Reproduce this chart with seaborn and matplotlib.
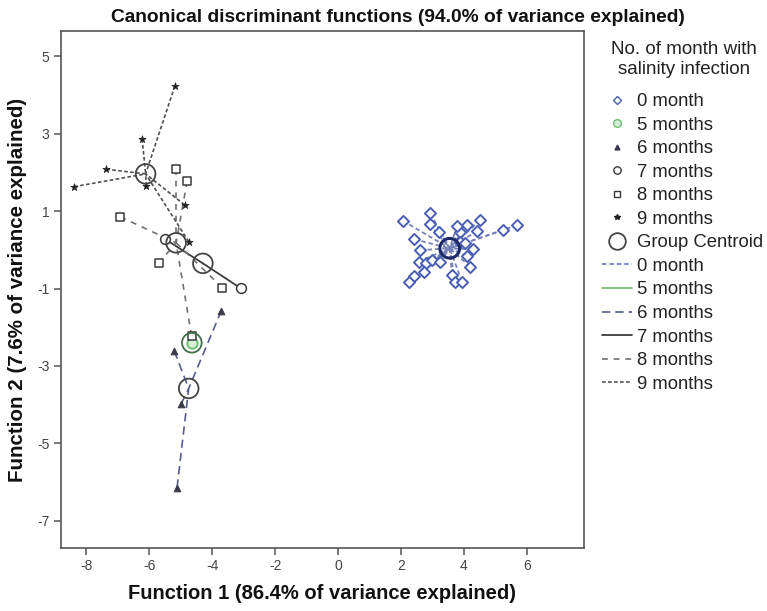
import numpy as np
import pandas as pd
import matplotlib
matplotlib.use("Agg")
import matplotlib.pyplot as plt
import seaborn as sns
from matplotlib.lines import Line2D

# ---------------- data ----------------
groups = ["0 month", "5 months", "6 months", "7 months", "8 months", "9 months"]

m0_x = [2.06, 2.93, 2.91, 3.22, 2.42, 2.61, 2.56, 2.80, 2.98, 3.25, 2.72, 2.40, 2.24, 3.62,
        3.72, 3.94, 4.20, 4.09, 4.29, 3.88, 4.11, 4.43, 4.52, 3.88, 4.04, 5.26, 5.70, 3.78]
m0_y = [0.75, 0.94, 0.66, 0.47, 0.27, -0.01, -0.31, -0.35, -0.26, -0.31, -0.57, -0.68, -0.82, -0.65,
        -0.82, -0.82, -0.44, -0.16, 0.01, 0.47, 0.64, 0.49, 0.77, 0.21, 0.17, 0.51, 0.64, 0.61]
m5_x = [-4.65]
m5_y = [-2.40]
m6_x = [-3.71, -5.21, -4.99, -5.12]
m6_y = [-1.57, -2.61, -3.98, -6.14]
m7_x = [-5.49, -3.10]
m7_y = [0.27, -0.99]
m8_x = [-5.15, -4.80, -6.92, -5.71, -3.68, -4.66]
m8_y = [2.08, 1.77, 0.85, -0.35, -0.98, -2.22]
m9_x = [-5.19, -6.23, -7.37, -8.39, -6.10, -4.88, -4.75]
m9_y = [4.23, 2.86, 2.08, 1.63, 1.65, 1.16, 0.21]

centroid_x = [3.55, -4.65, -4.75, -4.30, -5.15, -6.12]
centroid_y = [0.04, -2.40, -3.58, -0.35, 0.18, 1.96]

x_ticks = [-8, -6, -4, -2, 0, 2, 4, 6]
y_ticks = [5, 3, 1, -1, -3, -5, -7]

title = "Canonical discriminant functions (94.0% of variance explained)"
x_label = "Function 1 (86.4% of variance explained)"
y_label = "Function 2 (7.6% of variance explained)"
legend_title = ["No. of month with", "salinity infection"]

# ---------------- styles ----------------
pts = {
    "0 month": (m0_x, m0_y), "5 months": (m5_x, m5_y), "6 months": (m6_x, m6_y),
    "7 months": (m7_x, m7_y), "8 months": (m8_x, m8_y), "9 months": (m9_x, m9_y),
}
mk = {
    "0 month": dict(marker="D", s=32, color="white", edgecolor="#4a5fb3", linewidth=1.4),
    "5 months": dict(marker="o", s=55, color="#d8f0d8", edgecolor="#6cc070", linewidth=1.4),
    "6 months": dict(marker="^", s=22, color="#3a3a4a", edgecolor="#3a3a4a", linewidth=0.8),
    "7 months": dict(marker="o", s=50, color="white", edgecolor="#3a3a3a", linewidth=1.1),
    "8 months": dict(marker="s", s=40, color="white", edgecolor="#3a3a3a", linewidth=1.1),
    "9 months": dict(marker="*", s=30, color="#222222", edgecolor="#222222", linewidth=0.5),
}
ln = {
    "0 month": dict(color="#7480b8", linestyle=(0, (2.5, 1.6)), linewidth=1.3),
    "5 months": dict(color="#6cc070", linestyle="-", linewidth=1.2),
    "6 months": dict(color="#555d8c", linestyle=(0, (5, 3)), linewidth=1.2),
    "7 months": dict(color="#3a3a3a", linestyle="-", linewidth=1.3),
    "8 months": dict(color="#707070", linestyle=(0, (3.5, 3.5)), linewidth=1.2),
    "9 months": dict(color="#505050", linestyle=(0, (2.2, 1.4)), linewidth=1.2),
}
cen_edge = ["#1d2a66", "#3f6e47", "#444444", "#444444", "#444444", "#444444"]
cen_lw = [2.2, 1.3, 1.3, 1.3, 1.3, 1.3]

sns.set_theme(style="white")
plt.rcParams["font.family"] = ["Liberation Sans", "DejaVu Sans"]
plt.rcParams["axes.unicode_minus"] = False

W, H = 767, 611
fig = plt.figure(figsize=(W / 100, H / 100), dpi=100)
ax = fig.add_axes([60.7 / W, 1 - 548 / H, (584 - 60.7) / W, (548 - 31) / H])

# lines from each case to its group centroid
for gi, g in enumerate(groups):
    xs, ys = pts[g]
    cx, cy = centroid_x[gi], centroid_y[gi]
    for x, y in zip(xs, ys):
        ax.plot([x, cx], [y, cy], zorder=2, **ln[g])

# cases
for g in groups:
    xs, ys = pts[g]
    sns.scatterplot(x=xs, y=ys, ax=ax, zorder=3, legend=False, **mk[g])

# group centroids
for gi in range(len(groups)):
    sns.scatterplot(x=[centroid_x[gi]], y=[centroid_y[gi]], ax=ax, marker="o", s=200,
                    color="none", facecolor="none", edgecolor=cen_edge[gi],
                    linewidth=cen_lw[gi], zorder=4, legend=False)

ax.set_xlim(-8.82, 7.82)
ax.set_ylim(-7.70, 5.65)
ax.set_xticks(x_ticks)
ax.set_yticks(y_ticks)
ax.tick_params(axis="both", which="both", direction="out", length=5, width=1.1,
               color="#555555", labelsize=10, labelcolor="#444444", pad=3,
               bottom=True, left=True)
for sp in ax.spines.values():
    sp.set_visible(True)
    sp.set_color("#555555")
    sp.set_linewidth(1.2)
ax.grid(False)

ax.set_xlabel(x_label, fontsize=14.5, fontweight="bold", color="#111111")
ax.set_ylabel(y_label, fontsize=14.8, fontweight="bold", color="#111111")
ax.xaxis.set_label_coords(0.50, -0.070)
ax.yaxis.set_label_coords(-0.064, 0.5)

fig.text(398 / W, 1 - 18 / H, title, ha="center", va="center", fontsize=13.8,
         fontweight="bold", color="#111111")

# legend title
fig.text(684 / W, 1 - 49 / H, legend_title[0], ha="center", va="center",
         fontsize=13.5, color="#222222")
fig.text(684 / W, 1 - 70 / H, legend_title[1], ha="center", va="center",
         fontsize=13.5, color="#222222")

# legend
handles = []
for g in groups:
    m = mk[g]
    handles.append(Line2D([], [], linestyle="none", marker=m["marker"],
                          markersize=np.sqrt(m["s"]) * 0.75,
                          markerfacecolor=m["color"], markeredgecolor=m["edgecolor"],
                          markeredgewidth=1.0))
handles.append(Line2D([], [], linestyle="none", marker="o", markersize=12,
                      markerfacecolor="none", markeredgecolor="#444444", markeredgewidth=1.3))
for g in groups:
    handles.append(Line2D([], [], **ln[g]))
labels = groups + ["Group Centroid"] + groups

leg = fig.legend(handles, labels, loc="upper left",
                 bbox_to_anchor=(602 / W, 1 - 93 / H), frameon=False,
                 fontsize=13.3, handlelength=1.62, handletextpad=0.27,
                 labelspacing=0.355, borderpad=0, borderaxespad=0)
for t in leg.get_texts():
    t.set_color("#222222")

fig.savefig("out.png", dpi=100, facecolor="white")
